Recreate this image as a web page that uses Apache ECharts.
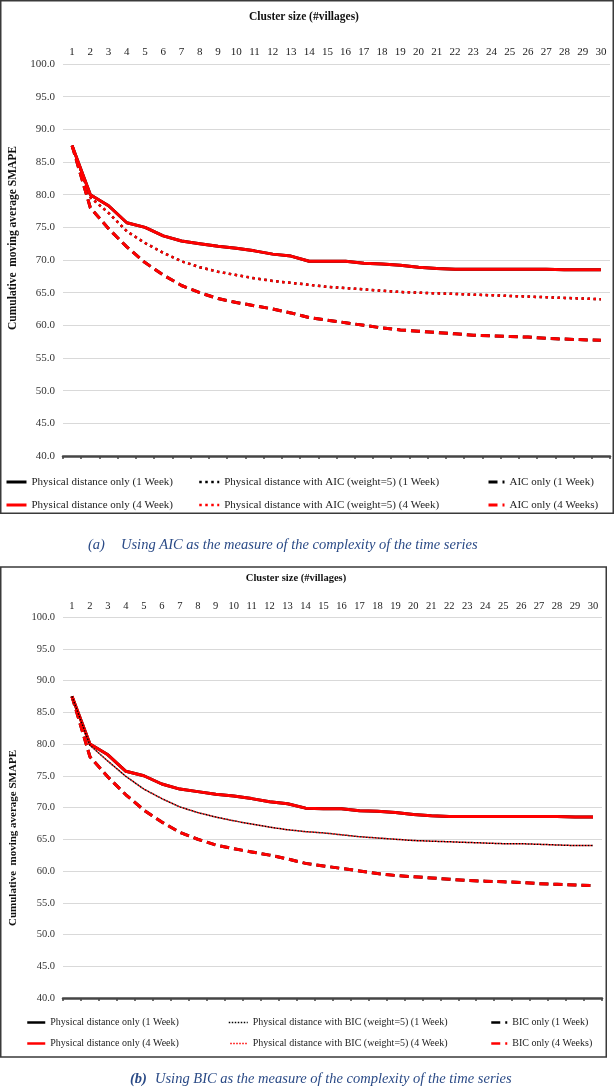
<!DOCTYPE html>
<html>
<head>
<meta charset="utf-8">
<script src="https://cdn.jsdelivr.net/npm/echarts@6/dist/echarts.min.js"></script>
<style>
html,body{margin:0;padding:0;background:#fff;}
#c{width:615px;height:1091px;}
</style>
</head>
<body>
<div id="c"></div>
<script>
// ---- data ----
const categories = ['1','2','3','4','5','6','7','8','9','10','11','12','13','14','15','16','17','18','19','20','21','22','23','24','25','26','27','28','29','30'];

// Panel (a): AIC
const physOnlyA = [87.5, 80.0, 78.3, 75.7, 75.0, 73.7, 72.9, 72.5, 72.1, 71.8, 71.4, 70.9, 70.6, 69.8, 69.8, 69.8, 69.5, 69.4, 69.2, 68.9, 68.7, 68.6, 68.6, 68.6, 68.6, 68.6, 68.6, 68.5, 68.5, 68.5];
const physAicA  = [87.5, 79.6, 77.2, 74.4, 72.6, 71.1, 69.8, 68.9, 68.2, 67.7, 67.2, 66.8, 66.5, 66.2, 65.9, 65.7, 65.5, 65.3, 65.1, 65.0, 64.9, 64.8, 64.7, 64.6, 64.5, 64.4, 64.3, 64.2, 64.1, 64.0];
const aicOnlyA  = [87.5, 78.0, 74.8, 72.0, 69.6, 67.7, 66.1, 65.0, 64.1, 63.5, 63.0, 62.5, 61.9, 61.2, 60.8, 60.4, 60.0, 59.6, 59.3, 59.1, 58.9, 58.7, 58.5, 58.4, 58.3, 58.2, 58.0, 57.9, 57.8, 57.7];

// Panel (b): BIC
const physOnlyB = [87.5, 80.0, 78.3, 75.7, 75.0, 73.7, 72.9, 72.5, 72.1, 71.8, 71.4, 70.9, 70.6, 69.9, 69.8, 69.8, 69.5, 69.4, 69.2, 68.9, 68.7, 68.6, 68.6, 68.6, 68.6, 68.6, 68.6, 68.6, 68.5, 68.5];
const physBicB  = [87.5, 79.8, 77.3, 74.9, 72.9, 71.4, 70.1, 69.2, 68.5, 67.9, 67.4, 66.9, 66.5, 66.2, 66.0, 65.7, 65.4, 65.2, 65.0, 64.8, 64.7, 64.6, 64.5, 64.4, 64.3, 64.3, 64.2, 64.1, 64.0, 64.0];
const bicOnlyB  = [87.5, 78.0, 74.8, 72.0, 69.6, 67.7, 66.1, 65.0, 64.1, 63.5, 63.0, 62.5, 61.9, 61.2, 60.8, 60.4, 60.0, 59.6, 59.3, 59.1, 58.9, 58.7, 58.5, 58.4, 58.3, 58.2, 58.0, 57.9, 57.8, 57.7];

const namesA = ['Physical distance only (1 Week)', 'Physical distance only (4 Week)',
                'Physical distance with AIC (weight=5) (1 Week)', 'Physical distance with AIC (weight=5) (4 Week)',
                'AIC only (1 Week)', 'AIC only (4 Weeks)'];
const namesB = ['Physical distance only (1 Week) ', 'Physical distance only (4 Week) ',
                'Physical distance with BIC (weight=5) (1 Week)', 'Physical distance with BIC (weight=5) (4 Week)',
                'BIC only (1 Week)', 'BIC only (4 Weeks)'];
const xTitle = 'Cluster size (#villages)';
const yTitle = 'Cumulative  moving average SMAPE';
const captionA = ['(a)', 'Using AIC as the measure of the complexity of the time series'];
const captionB = ['(b)', 'Using BIC as the measure of the complexity of the time series'];

// ---- chart ----
const FF = '"Liberation Serif", "Times New Roman", serif';
const chart = echarts.init(document.getElementById('c'), null, {renderer: 'canvas'});

function line(name, data, color, width, type, xi, yi, z, offset) {
  return {
    name: name, type: 'line', data: data, xAxisIndex: xi, yAxisIndex: yi,
    symbol: 'none', showSymbol: false, z: z, silent: true,
    lineStyle: {color: color, width: width, type: type, dashOffset: offset || 0, cap: 'butt'},
    itemStyle: {color: color}
  };
}

function xAxes(gi, fs, margin) {
  return [
    {gridIndex: gi, type: 'category', data: categories, position: 'bottom', boundaryGap: true,
     axisLine: {onZero: false, lineStyle: {color: '#454545', width: 2.5}},
     axisTick: {show: true, length: 3, lineStyle: {color: '#454545', width: 1.5}},
     axisLabel: {show: false}, splitLine: {show: false}},
    {gridIndex: gi, type: 'category', data: categories, position: 'top', boundaryGap: true,
     axisLine: {show: false}, axisTick: {show: false},
     axisLabel: {fontSize: fs, margin: margin, color: '#222', fontFamily: FF, interval: 0},
     splitLine: {show: false}}
  ];
}
function yAxis(gi, fs) {
  return {gridIndex: gi, type: 'value', min: 40, max: 100, interval: 5,
    axisLine: {show: false}, axisTick: {show: false},
    axisLabel: {fontSize: fs, margin: 8, color: '#333', fontFamily: FF, formatter: v => v.toFixed(1)},
    splitLine: {lineStyle: {color: '#d9d9d9', width: 1.2}}};
}
function legend(names, left, top, iw, fs, lh, gap, lw) {
  return {orient: 'vertical', left: left, top: top, itemWidth: iw, itemHeight: 12, itemGap: gap,
    selectedMode: false, data: names, padding: 0,
    itemStyle: {opacity: 0, borderWidth: 0},
    lineStyle: {width: lw},
    textStyle: {fontFamily: FF, fontSize: fs, color: '#222', lineHeight: lh}};
}

const option = {
  animation: false,
  backgroundColor: '#fff',
  grid: [
    {left: 63, right: 5, top: 64, height: 392},
    {left: 63, right: 13, top: 617, height: 381}
  ],
  xAxis: [].concat(xAxes(0, 11, 6), xAxes(1, 10.5, 5)),
  yAxis: [yAxis(0, 11), yAxis(1, 10.5)],
  legend: [
    legend([namesA[0], namesA[1]], 5, 475, 20, 11, 14, 9, 3),
    legend([namesA[2], namesA[3]], 198, 475, 20, 11, 14, 9, 2.5),
    legend([namesA[4], namesA[5]], 487, 475, 16, 11, 14, 9, 3),
    legend([namesB[0], namesB[1]], 26, 1016, 18, 10, 13, 8, 2.5),
    legend([namesB[2], namesB[3]], 228, 1016, 19, 10, 13, 8, 1.5),
    legend([namesB[4], namesB[5]], 490, 1016, 16, 10, 13, 8, 2.5)
  ],
  series: [
    // panel a (1 Week series lie underneath the 4 Week ones)
    line(namesA[0], physOnlyA, '#000000', 3, 'solid', 0, 0, 2),
    line(namesA[2], physAicA, '#000000', 2.5, [2.5, 3.5], 0, 0, 2),
    line(namesA[4], aicOnlyA, '#000000', 3, [9, 5], 0, 0, 2),
    line(namesA[1], physOnlyA, '#ff0000', 3, 'solid', 0, 0, 3),
    line(namesA[3], physAicA, '#ff0000', 2.5, [2.5, 3.5], 0, 0, 3),
    line(namesA[5], aicOnlyA, '#ff0000', 3, [9, 5], 0, 0, 3),
    // panel b
    line(namesB[0], physOnlyB, '#000000', 3, 'solid', 2, 1, 2),
    line(namesB[4], bicOnlyB, '#000000', 3, [9, 5], 2, 1, 2),
    line(namesB[1], physOnlyB, '#ff0000', 3, 'solid', 2, 1, 3),
    line(namesB[3], physBicB, '#ff0000', 1.5, [1.5, 1.5], 2, 1, 3, 1.5),
    line(namesB[2], physBicB, '#000000', 1.5, [1.5, 1.5], 2, 1, 4),
    line(namesB[5], bicOnlyB, '#ff0000', 3, [9, 5], 2, 1, 3)
  ],
  graphic: [
    {type: 'rect', shape: {x: 0.75, y: 0.75, width: 612.5, height: 512.5}, style: {fill: 'none', stroke: '#3a3a3a', lineWidth: 1.5}, silent: true},
    {type: 'rect', shape: {x: 0.75, y: 567, width: 605.5, height: 490}, style: {fill: 'none', stroke: '#3a3a3a', lineWidth: 1.5}, silent: true},
    {type: 'text', x: 304, y: 17, style: {text: xTitle, font: 'bold 11.5px ' + FF, fill: '#111', textAlign: 'center', textVerticalAlign: 'middle'}},
    {type: 'text', x: 296, y: 578, style: {text: xTitle, font: 'bold 10.5px ' + FF, fill: '#111', textAlign: 'center', textVerticalAlign: 'middle'}},
    {type: 'text', x: 13, y: 238, rotation: Math.PI / 2, style: {text: yTitle, font: 'bold 11.5px ' + FF, fill: '#111', textAlign: 'center', textVerticalAlign: 'middle'}},
    {type: 'text', x: 13, y: 838, rotation: Math.PI / 2, style: {text: yTitle, font: 'bold 11px ' + FF, fill: '#111', textAlign: 'center', textVerticalAlign: 'middle'}},
    {type: 'text', x: 88, y: 545, style: {text: captionA[0], font: 'italic 14.5px ' + FF, fill: '#2a4a86', textAlign: 'left', textVerticalAlign: 'middle'}},
    {type: 'text', x: 121, y: 545, style: {text: captionA[1], font: 'italic 14.5px ' + FF, fill: '#2a4a86', textAlign: 'left', textVerticalAlign: 'middle'}},
    {type: 'text', x: 130, y: 1079, style: {text: captionB[0], font: 'italic bold 14.5px ' + FF, fill: '#2a4a86', textAlign: 'left', textVerticalAlign: 'middle'}},
    {type: 'text', x: 155, y: 1079, style: {text: captionB[1], font: 'italic 14.5px ' + FF, fill: '#2a4a86', textAlign: 'left', textVerticalAlign: 'middle'}}
  ]
};
chart.setOption(option);
</script>
</body>
</html>
